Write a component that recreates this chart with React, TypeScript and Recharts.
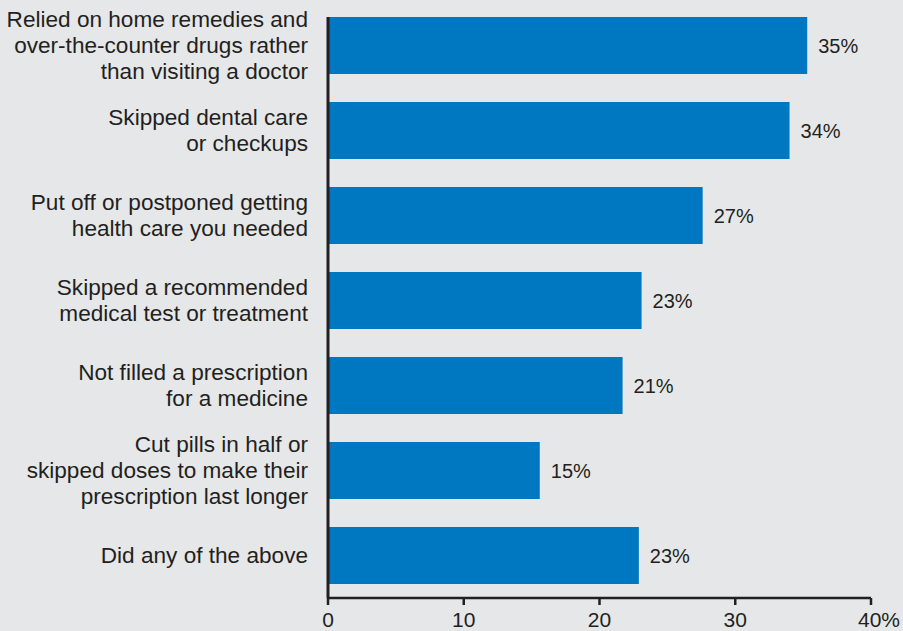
import { Bar, BarChart, LabelList, XAxis, YAxis } from 'recharts';

const categories = [
  ['Relied on home remedies and', 'over-the-counter drugs rather', 'than visiting a doctor'],
  ['Skipped dental care', 'or checkups'],
  ['Put off or postponed getting', 'health care you needed'],
  ['Skipped a recommended', 'medical test or treatment'],
  ['Not filled a prescription', 'for a medicine'],
  ['Cut pills in half or', 'skipped doses to make their', 'prescription last longer'],
  ['Did any of the above'],
];
const values = [35.3, 34.0, 27.6, 23.1, 21.7, 15.6, 22.9];
const valueLabels = ['35%', '34%', '27%', '23%', '21%', '15%', '23%'];
const xTicks = [0, 10, 20, 30, 40];
const xTickLabels = ['0', '10', '20', '30', '40%'];

const data = categories.map((lines, i) => ({
  name: lines.join(' '),
  value: values[i],
  label: valueLabels[i],
}));

const FONT = '"Liberation Sans", Arial, Helvetica, sans-serif';
const INK = '#231f20';

function CategoryTick(props: any) {
  const { x, y, index } = props;
  const lines = categories[index] || [];
  const top = y - ((lines.length - 1) * 26) / 2;
  return (
    <text x={x - 12} y={top} textAnchor="end" fontSize={22.6} fontFamily={FONT} fill={INK}>
      {lines.map((l, i) => (
        <tspan key={i} x={x - 12} y={top + i * 26} dy="0.35em">
          {l}
        </tspan>
      ))}
    </text>
  );
}

function ValueTick(props: any) {
  const { x, y, index } = props;
  const last = index === xTicks.length - 1;
  return (
    <text
      x={last ? x - 13 : x}
      y={y + 20}
      textAnchor={last ? 'start' : 'middle'}
      fontSize={21}
      fontFamily={FONT}
      fill={INK}
    >
      {xTickLabels[index]}
    </text>
  );
}

export default function App() {
  return (
    <div style={{ position: 'absolute', left: 0, top: 0, width: 903, height: 631, background: '#e6e7e8' }}>
      <BarChart
        width={903}
        height={631}
        data={data}
        layout="vertical"
        margin={{ top: 17, right: 32, bottom: 0, left: 0 }}
      >
        <XAxis
          type="number"
          domain={[0, 40]}
          ticks={xTicks}
          interval={0}
          height={33}
          axisLine={{ stroke: INK, strokeWidth: 2.5 }}
          tickLine={{ stroke: INK, strokeWidth: 2.5 }}
          tickSize={7}
          tick={<ValueTick />}
        />
        <YAxis
          type="category"
          dataKey="name"
          width={328}
          padding={{ top: -14, bottom: 0 }}
          axisLine={{ stroke: INK, strokeWidth: 3 }}
          tickLine={false}
          interval={0}
          tick={<CategoryTick />}
        />
        <Bar dataKey="value" fill="#0078c1" barSize={57} isAnimationActive={false}>
          <LabelList
            dataKey="label"
            position="right"
            offset={11}
            fontSize={20}
            fontFamily={FONT}
            fill={INK}
          />
        </Bar>
      </BarChart>
    </div>
  );
}
